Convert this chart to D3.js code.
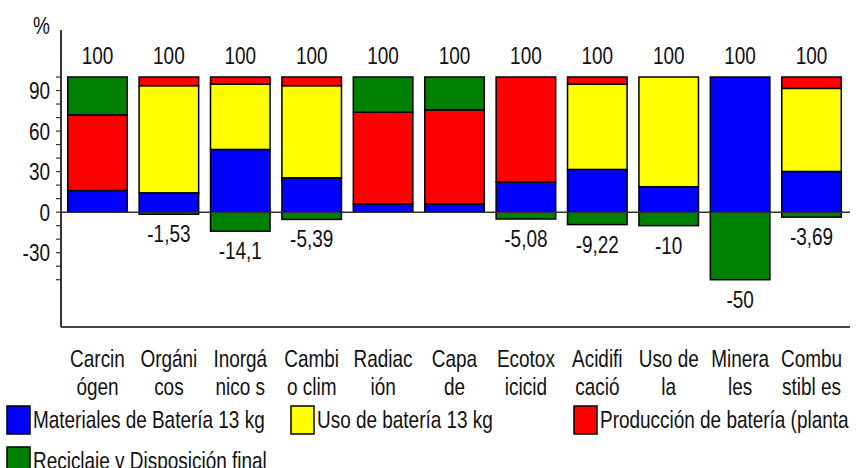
<!DOCTYPE html>
<html>
<head>
<meta charset="utf-8">
<script src="https://cdn.jsdelivr.net/npm/d3@7"></script>
<style>
  html, body { margin: 0; padding: 0; background: #fff; }
  svg { display: block; }
  text { font-family: "Liberation Sans", Arial, sans-serif; fill: #111; }
</style>
</head>
<body>
<svg id="chart" width="856" height="468"></svg>
<script>
// Impact categories (two-line labels as printed under each bar)
const labelTop    = ["Carcin", "Orgáni", "Inorgá", "Cambi", "Radiac", "Capa", "Ecotox", "Acidifi", "Uso de", "Minera", "Combu"];
const labelBottom = ["ógen", "cos", "nico s", "o clim", "ión", "de", "icicid", "cació", "la", "les", "stibl es"];

// Contribution of each life-cycle stage, in %
const materiales = [16, 14.3, 46.4, 25.4, 6, 6, 22.2, 31.6, 18.8, 100, 30.1];
const uso        = [0, 79.3, 48.4, 68.2, 0, 0, 0, 63.2, 81.2, 0, 61.5];
const produccion = [56, 6.4, 5.2, 6.4, 68, 69.6, 77.8, 5.2, 0, 0, 8.4];
const reciclaje  = [28, -1.53, -14.1, -5.39, 26, 24.4, -5.08, -9.22, -10, -50, -3.69];

const seriesNames = [
  "Materiales de Batería 13 kg",
  "Uso de batería 13 kg",
  "Producción de batería (planta",
  "Reciclaje y Disposición final"
];
const seriesColors = ["#0000ff", "#ffff00", "#ff0000", "#008000"];

const yTickLabels = [-30, 0, 30, 60, 90];
const yMinorTicks = [-50, -40, -30, -20, -10, 0, 10, 20, 30, 40, 50, 60, 70, 80, 90, 100];

const keys = ["materiales", "uso", "produccion", "reciclaje"];
const rows = labelTop.map((d, i) => ({
  idx: i,
  materiales: materiales[i],
  uso: uso[i],
  produccion: produccion[i],
  reciclaje: reciclaje[i]
}));

const svg = d3.select("#chart");
const FONT = 24, SX = 0.79;

// condensed text helper
function label(g, x, y, txt, anchor) {
  return g.append("text")
    .attr("transform", `translate(${x},${y}) scale(${SX},1)`)
    .attr("text-anchor", anchor || "middle")
    .style("font-size", FONT + "px")
    .text(txt);
}

const x = d3.scaleBand().domain(d3.range(labelTop.length)).range([61, 848])
  .paddingInner(0.166).paddingOuter(0.094);
const y = d3.scaleLinear().domain([-85, 134.8]).range([327, 30]);

const stack = d3.stack().keys(keys).offset(d3.stackOffsetDiverging);
const stacked = stack(rows);

// bars
const gBars = svg.append("g");
stacked.forEach((layer, li) => {
  gBars.selectAll(null)
    .data(layer.filter(d => d[1] !== d[0]))
    .join("rect")
    .attr("x", d => x(d.data.idx))
    .attr("width", x.bandwidth())
    .attr("y", d => y(Math.max(d[0], d[1])))
    .attr("height", d => Math.abs(y(d[0]) - y(d[1])))
    .attr("fill", seriesColors[li])
    .attr("stroke", "#000")
    .attr("stroke-width", 1.5);
});

// axes lines
svg.append("line").attr("x1", 61).attr("x2", 850).attr("y1", y(0)).attr("y2", y(0))
  .attr("stroke", "#333").attr("stroke-width", 1.5);
svg.append("line").attr("x1", 61).attr("x2", 850).attr("y1", y(-85)).attr("y2", y(-85))
  .attr("stroke", "#444").attr("stroke-width", 2);
svg.append("line").attr("x1", 61).attr("x2", 61).attr("y1", 30).attr("y2", y(-85))
  .attr("stroke", "#333").attr("stroke-width", 2);

// y ticks
svg.append("g").selectAll("line").data(yMinorTicks).join("line")
  .attr("x1", 56).attr("x2", 61)
  .attr("y1", d => y(d)).attr("y2", d => y(d))
  .attr("stroke", "#333").attr("stroke-width", 1.2);

const gText = svg.append("g");
yTickLabels.forEach(v => label(gText, 50, y(v) + 8.5, String(v), "end"));
label(gText, 33, 34, "%", "start");

// totals above bars and negative values below
rows.forEach((r, i) => {
  const cx = x(i) + x.bandwidth() / 2;
  const pos = keys.reduce((s, k) => s + Math.max(0, r[k]), 0);
  const neg = keys.reduce((s, k) => s + Math.min(0, r[k]), 0);
  label(gText, cx, y(pos) - 13, d3.format("d")(pos));
  if (neg < 0) label(gText, cx, y(neg) + 28, String(neg).replace(".", ","));
  label(gText, cx, 367, labelTop[i]);
  label(gText, cx, 395, labelBottom[i]);
});

// legend
const legendPos = [
  { x: 7, y: 406 },
  { x: 291, y: 406 },
  { x: 574, y: 406 },
  { x: 7, y: 447 }
];
seriesNames.forEach((name, i) => {
  const p = legendPos[i];
  svg.append("rect").attr("x", p.x).attr("y", p.y).attr("width", 23).attr("height", 28)
    .attr("fill", seriesColors[i]).attr("stroke", "#000").attr("stroke-width", 1.5);
  label(gText, p.x + 26, p.y + 22, name, "start");
});
</script>
</body>
</html>
